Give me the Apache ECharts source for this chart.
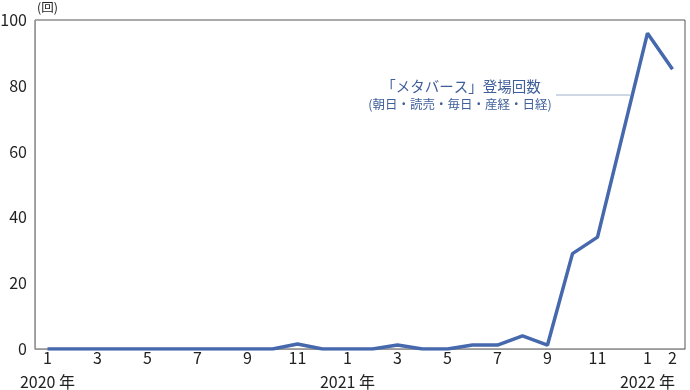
<!DOCTYPE html>
<html><head><meta charset="utf-8">
<script src="https://cdn.jsdelivr.net/npm/echarts@6/dist/echarts.min.js"></script>
<style>html,body{margin:0;padding:0;background:#fff}#c{width:690px;height:390px}</style>
</head><body><div id="c"></div>
<script>
const months = ['1','2','3','4','5','6','7','8','9','10','11','12',
                '1','2','3','4','5','6','7','8','9','10','11','12',
                '1','2'];
const years = {0:'2020 年', 12:'2021 年', 24:'2022 年'};
const counts = [0,0,0,0,0,0,0,0,0,0,1.5,0,
                0,0,1.2,0,0,1.2,1.2,4,1.2,29,34,65,
                96,85];
const yTicks = {min:0, max:100, interval:20};
const unitLabel = '(回)';
const noteTitle = '「メタバース」登場回数';
const noteSub = '(朝日・読売・毎日・産経・日経)';

const FONT = '"Noto Sans CJK JP", "Noto Sans", sans-serif';
const chart = echarts.init(document.getElementById('c'));
chart.setOption({
  animation:false,
  textStyle:{fontFamily:FONT},
  grid:{left:35, right:5, top:20, bottom:41, show:true, borderColor:'#555', borderWidth:1, outerBoundsMode:'none', containLabel:false},
  xAxis:[{
    type:'category', data:months, boundaryGap:true,
    axisLine:{lineStyle:{color:'#999', width:1}},
    axisTick:{show:false},
    axisLabel:{
      interval:(i)=> i%2===0 || i===25,
      hideOverlap:false, showMaxLabel:true,
      color:'#222', fontSize:16, fontFamily:FONT, margin:0, lineHeight:18
    }
  },{
    type:'category', data:months, boundaryGap:true, position:'bottom', offset:24,
    axisLine:{show:false}, axisTick:{show:false},
    axisLabel:{
      interval:(i)=> years[i] !== undefined,
      hideOverlap:false,
      color:'#222', fontSize:16, fontFamily:FONT, margin:0, lineHeight:18,
      formatter:(v,i)=> years[i] || ''
    }
  }],
  yAxis:{
    type:'value', min:yTicks.min, max:yTicks.max, interval:yTicks.interval,
    axisLine:{show:true, lineStyle:{color:'#999', width:1}},
    axisTick:{show:false},
    splitLine:{show:false},
    axisLabel:{color:'#222', fontSize:16, fontFamily:FONT, margin:8}
  },
  series:[{
    type:'line', data:counts, symbol:'none', xAxisIndex:0,
    lineStyle:{color:'#4668ad', width:3.5}
  }],
  graphic:[
    {type:'text', left:37, top:1, style:{text:unitLabel, font:'12.5px '+FONT, fill:'#222'}},
    {type:'text', x:461, y:86, style:{text:noteTitle, font:'14.5px '+FONT, fill:'#3f5f9a', align:'center', verticalAlign:'middle'}},
    {type:'text', x:460, y:104, style:{text:noteSub, font:'12.5px '+FONT, fill:'#3f5f9a', align:'center', verticalAlign:'middle'}},
    {type:'line', shape:{x1:556, y1:95, x2:630, y2:95}, style:{stroke:'#9fb0cc', lineWidth:1}}
  ]
});
</script></body></html>
